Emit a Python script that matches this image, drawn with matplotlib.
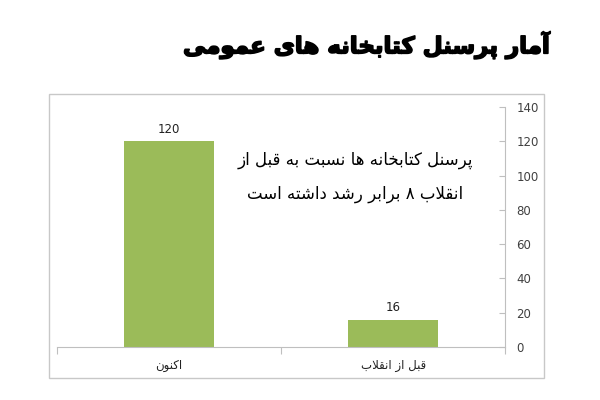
import matplotlib.pyplot as plt
import matplotlib.patheffects as pe
from matplotlib.patches import Rectangle

# chart data
categories = ["اکنون", "قبل از انقلاب"]
staff = [120, 16]
y_ticks = [0, 20, 40, 60, 80, 100, 120, 140]
title = "آمار پرسنل کتابخانه های عمومی"
note_lines = ["پرسنل کتابخانه ها نسبت به قبل از", "انقلاب ۸ برابر رشد داشته است"]

# matplotlib has no arabic shaping, so pick presentation forms by hand
# (isolated, final, initial, medial)
FORMS = {
    "ا": ("\ufe8d", "\ufe8e", None, None),
    "آ": ("\ufe81", "\ufe82", None, None),
    "ب": ("\ufe8f", "\ufe90", "\ufe91", "\ufe92"),
    "پ": ("\ufb56", "\ufb57", "\ufb58", "\ufb59"),
    "ت": ("\ufe95", "\ufe96", "\ufe97", "\ufe98"),
    "خ": ("\ufea5", "\ufea6", "\ufea7", "\ufea8"),
    "د": ("\ufea9", "\ufeaa", None, None),
    "ر": ("\ufead", "\ufeae", None, None),
    "ز": ("\ufeaf", "\ufeb0", None, None),
    "س": ("\ufeb1", "\ufeb2", "\ufeb3", "\ufeb4"),
    "ش": ("\ufeb5", "\ufeb6", "\ufeb7", "\ufeb8"),
    "ع": ("\ufec9", "\ufeca", "\ufecb", "\ufecc"),
    "ق": ("\ufed5", "\ufed6", "\ufed7", "\ufed8"),
    "ک": ("\ufb8e", "\ufb8f", "\ufb90", "\ufb91"),
    "ل": ("\ufedd", "\ufede", "\ufedf", "\ufee0"),
    "م": ("\ufee1", "\ufee2", "\ufee3", "\ufee4"),
    "ن": ("\ufee5", "\ufee6", "\ufee7", "\ufee8"),
    "ه": ("\ufee9", "\ufeea", "\ufeeb", "\ufeec"),
    "و": ("\ufeed", "\ufeee", None, None),
    "ی": ("\ufbfc", "\ufbfd", "\ufbfe", "\ufbff"),
    "\u0001": ("\ufefb", "\ufefc", None, None),  # lam-alef
}


def shape(text):
    text = text.replace("لا", "\u0001")
    out = []
    for i, ch in enumerate(text):
        if ch not in FORMS:
            out.append(ch)
            continue
        prev = text[i - 1] if i > 0 else ""
        nxt = text[i + 1] if i + 1 < len(text) else ""
        joins_prev = prev in FORMS and FORMS[prev][2] is not None
        joins_next = FORMS[ch][2] is not None and nxt in FORMS
        f = FORMS[ch]
        if joins_prev and joins_next:
            out.append(f[3])
        elif joins_prev:
            out.append(f[1])
        elif joins_next:
            out.append(f[2])
        else:
            out.append(f[0])
    return "".join(out)[::-1]


plt.rcParams["font.family"] = ["DejaVu Sans"]

fig = plt.figure(figsize=(6, 4), dpi=100)
ax = fig.add_axes([0.095, 0.1325, 0.747, 0.6])

x = list(range(len(categories)))
bars = ax.bar(x, staff, width=0.4, color="#9bbb59", zorder=2)
for b, v in zip(bars, staff):
    ax.text(b.get_x() + b.get_width() / 2, v + 3, str(v), ha="center", va="bottom",
            fontsize=8.5, color="#222222")

ax.set_xlim(-0.5, 1.5)
ax.set_ylim(0, 140)
ax.set_yticks(y_ticks)
ax.yaxis.tick_right()
ax.tick_params(axis="y", direction="in", length=4, color="#bfbfbf", labelsize=8.5,
               labelcolor="#404040", pad=8)
ax.set_xticks([-0.5, 0.5, 1.5])
ax.set_xticklabels([])
ax.set_xticks(x, minor=True)
ax.set_xticklabels([shape(c) for c in categories], minor=True, fontsize=8.5, color="#222222")
ax.tick_params(axis="x", which="major", direction="out", length=5, color="#bfbfbf")
ax.tick_params(axis="x", which="minor", length=0, pad=9)
for side in ["left", "top"]:
    ax.spines[side].set_visible(False)
for side in ["right", "bottom"]:
    ax.spines[side].set_color("#bfbfbf")

ax.text(0.83, 109, shape(note_lines[0]), ha="center", va="center", fontsize=12)
ax.text(0.83, 89, shape(note_lines[1]), ha="center", va="center", fontsize=12)

fig.patches.append(Rectangle((0.0817, 0.055), 0.825, 0.71, transform=fig.transFigure,
                             fill=False, edgecolor="#c8c8c8", lw=1))

fig.text(0.61, 0.887, shape(title), ha="center", va="center", fontsize=16.5,
         fontweight="bold",
         path_effects=[pe.withStroke(linewidth=1.2, foreground="black")])

fig.savefig("out.png")
